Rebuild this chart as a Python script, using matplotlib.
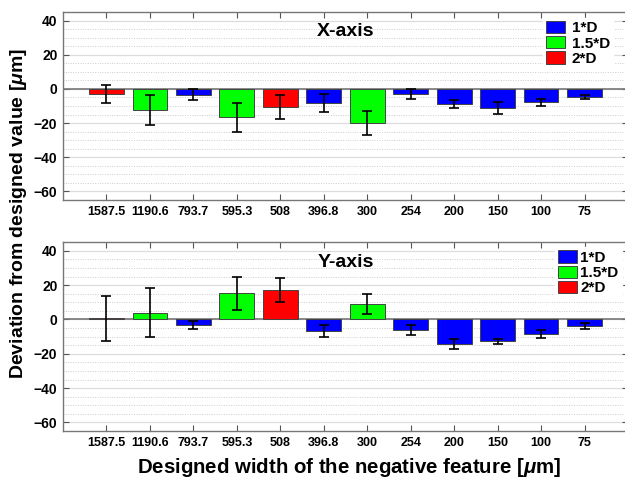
import matplotlib
matplotlib.use("Agg")
import matplotlib.pyplot as plt
from matplotlib.patches import Patch
from matplotlib.ticker import MultipleLocator

plt.rcParams['font.family'] = ['Liberation Sans', 'DejaVu Sans']
plt.rcParams['font.weight'] = 'bold'
plt.rcParams['mathtext.fontset'] = 'custom'
plt.rcParams['mathtext.it'] = 'Liberation Sans:italic:bold'
plt.rcParams['mathtext.rm'] = 'Liberation Sans:bold'

# categories (designed width, um) and group of each one
widths = ['1587.5', '1190.6', '793.7', '595.3', '508', '396.8',
          '300', '254', '200', '150', '100', '75']
groups = ['2*D', '1.5*D', '1*D', '1.5*D', '2*D', '1*D',
          '1.5*D', '1*D', '1*D', '1*D', '1*D', '1*D']

# deviation from designed value (um) and error bars
x_dev = [-3.0, -12.4, -3.5, -16.7, -10.5, -8.2, -19.8, -3.0, -8.7, -11.2, -7.8, -4.7]
x_err = [5.2, 9.0, 3.2, 8.4, 7.1, 5.2, 7.0, 2.8, 2.2, 3.6, 2.1, 1.4]
y_dev = [0.6, 4.0, -3.3, 15.2, 17.3, -6.9, 8.8, -6.0, -14.2, -12.7, -8.5, -3.7]
y_err = [13.1, 14.3, 2.5, 9.8, 6.9, 3.4, 5.8, 2.9, 3.0, 1.4, 2.3, 1.8]

group_colors = {'1*D': '#0000ff', '1.5*D': '#00ff00', '2*D': '#ff0000'}
legend_order = ['1*D', '1.5*D', '2*D']

fig = plt.figure(figsize=(6.25, 4.79), dpi=100)
ax_top = fig.add_axes([0.1008, 0.5825, 0.904, 0.3925])
ax_bot = fig.add_axes([0.1008, 0.1002, 0.904, 0.394])

pos = list(range(1, len(widths) + 1))
cols = [group_colors[g] for g in groups]

panels = [(ax_top, x_dev, x_err, 'X-axis', 0.85, 0.968, 0.4),
          (ax_bot, y_dev, y_err, 'Y-axis', 0.871, 0.973, 0.2)]

for ax, dev, err, title, lx, ly, pad in panels:
    ax.set_axisbelow(True)
    ax.bar(pos, dev, width=0.8, color=cols, edgecolor='#444444', linewidth=0.7, zorder=2)
    ax.errorbar(pos, dev, yerr=err, fmt='none', ecolor='black',
                elinewidth=1.2, capsize=3.5, capthick=1.2, zorder=3)
    ax.axhline(0, color='#777777', lw=1.2, zorder=1.5)
    ax.set_xlim(0, 13)
    ax.set_ylim(-65, 45)
    ax.set_xticks(pos)
    ax.set_xticklabels(widths, fontsize=9, fontweight='bold')
    ax.yaxis.set_major_locator(MultipleLocator(20))
    ax.yaxis.set_minor_locator(MultipleLocator(5))
    ax.tick_params(axis='y', which='minor', length=0)
    ax.tick_params(which='major', direction='in', top=True, right=True,
                   length=4, color='#555555', pad=4)
    ax.tick_params(axis='y', labelsize=10)
    for lab in ax.get_yticklabels():
        lab.set_fontweight('bold')
    ax.grid(which='major', axis='y', color='#dddddd', lw=0.9, ls='-')
    ax.grid(which='minor', axis='y', color='#cccccc', lw=0.7, ls=(0, (1, 1.5)))
    for s in ax.spines.values():
        s.set_color('#777777')
        s.set_linewidth(1.0)
    ax.text(0.45, 0.894, title, transform=ax.transAxes, fontsize=14,
            fontweight='bold', ha='left', va='center', zorder=5)
    handles = [Patch(facecolor=group_colors[g], edgecolor='#444444', linewidth=0.7)
               for g in legend_order]
    leg = ax.legend(handles, legend_order, loc='upper left', bbox_to_anchor=(lx, ly),
                    fontsize=11, frameon=True, facecolor='white', edgecolor='white',
                    framealpha=1, fancybox=False, handlelength=1.25, handleheight=0.85,
                    labelspacing=0.05, handletextpad=pad, borderpad=0.2,
                    borderaxespad=0)
    leg.set_zorder(6)
    for t in leg.get_texts():
        t.set_fontweight('bold')

fig.text(0.029, 0.555, 'Deviation from designed value [$\\mu$m]', rotation=90,
         ha='center', va='center', fontsize=14, fontweight='bold')
fig.text(0.559, 0.025, 'Designed width of the negative feature [$\\mu$m]',
         ha='center', va='center', fontsize=14.7, fontweight='bold')

fig.savefig('out.png', dpi=100)
